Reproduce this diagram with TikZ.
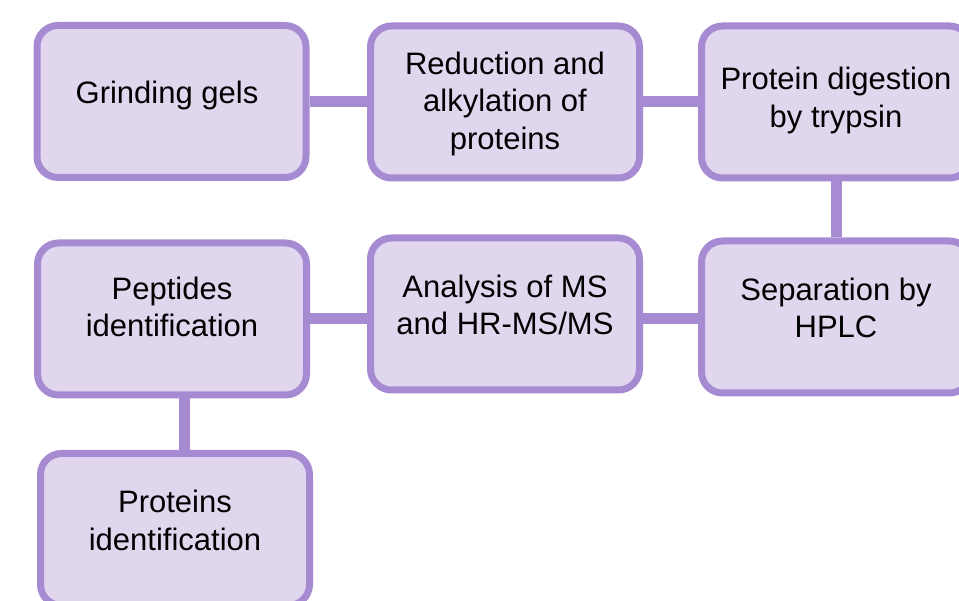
\documentclass[tikz,border=0pt]{standalone}
\usepackage{fontspec}
\setmainfont{Liberation Sans}
\usetikzlibrary{backgrounds}

\definecolor{lavline}{HTML}{A68BD3}
\definecolor{lavfill}{HTML}{E0D6EE}
% invisible strut: height, depth
\newcommand{\padstrut}[2]{\rule[-#2]{0pt}{\dimexpr#1+#2\relax}}
\newcommand{\rowstrut}{\padstrut{20pt}{18pt}}
\newcommand{\boxfont}{\fontsize{31}{37.5}\selectfont\lineskiplimit=-100pt\relax}

\begin{document}
\begin{tikzpicture}[
  x=1pt,y=-1pt,
  stepbox/.style={draw=lavline,fill=lavfill,line width=7pt,rounded corners=21pt,
    minimum width=269pt,minimum height=152pt,inner sep=0pt,align=center,
    font=\boxfont},
  link/.style={draw=lavline,line width=11pt}
]
  \useasboundingbox (0,0) rectangle (959,601);
  \clip (0,0) rectangle (959,601);

  % first row
  \node[stepbox] (grind) at (171.5,101.5) {\rowstrut Grinding gels\hspace*{9pt}};
  \node[stepbox] (reduce) at (505,102) {\padstrut{38pt}{18pt}Reduction and\\\rowstrut alkylation of\\\rowstrut proteins};
  \node[stepbox] (digest) at (836,102) {\padstrut{31pt}{18pt}Protein digestion\\\rowstrut by trypsin};

  % second row
  \node[stepbox] (separate) at (836,317) {\rowstrut Separation by\\\rowstrut HPLC};
  \node[stepbox] (analyse) at (505,314) {\rowstrut Analysis of MS\\\rowstrut and HR-MS/MS};
  \node[stepbox] (peptides) at (172,319) {\rowstrut Peptides\\\padstrut{20pt}{24pt}identification};

  % last step
  \node[stepbox] (proteins) at (175,529.5) {\rowstrut Proteins\\\rowstrut identification};

  \begin{scope}[on background layer]
    \draw[link] (grind.east) -- (grind.east -| digest.west);
    \draw[link] (digest.south) -- (separate.north);
    \draw[link] (peptides.east) -- (peptides.east -| separate.west);
    \draw[link] ([xshift=12pt]peptides.south) -- ([xshift=12pt]peptides.south |- proteins.north);
  \end{scope}
\end{tikzpicture}
\end{document}
